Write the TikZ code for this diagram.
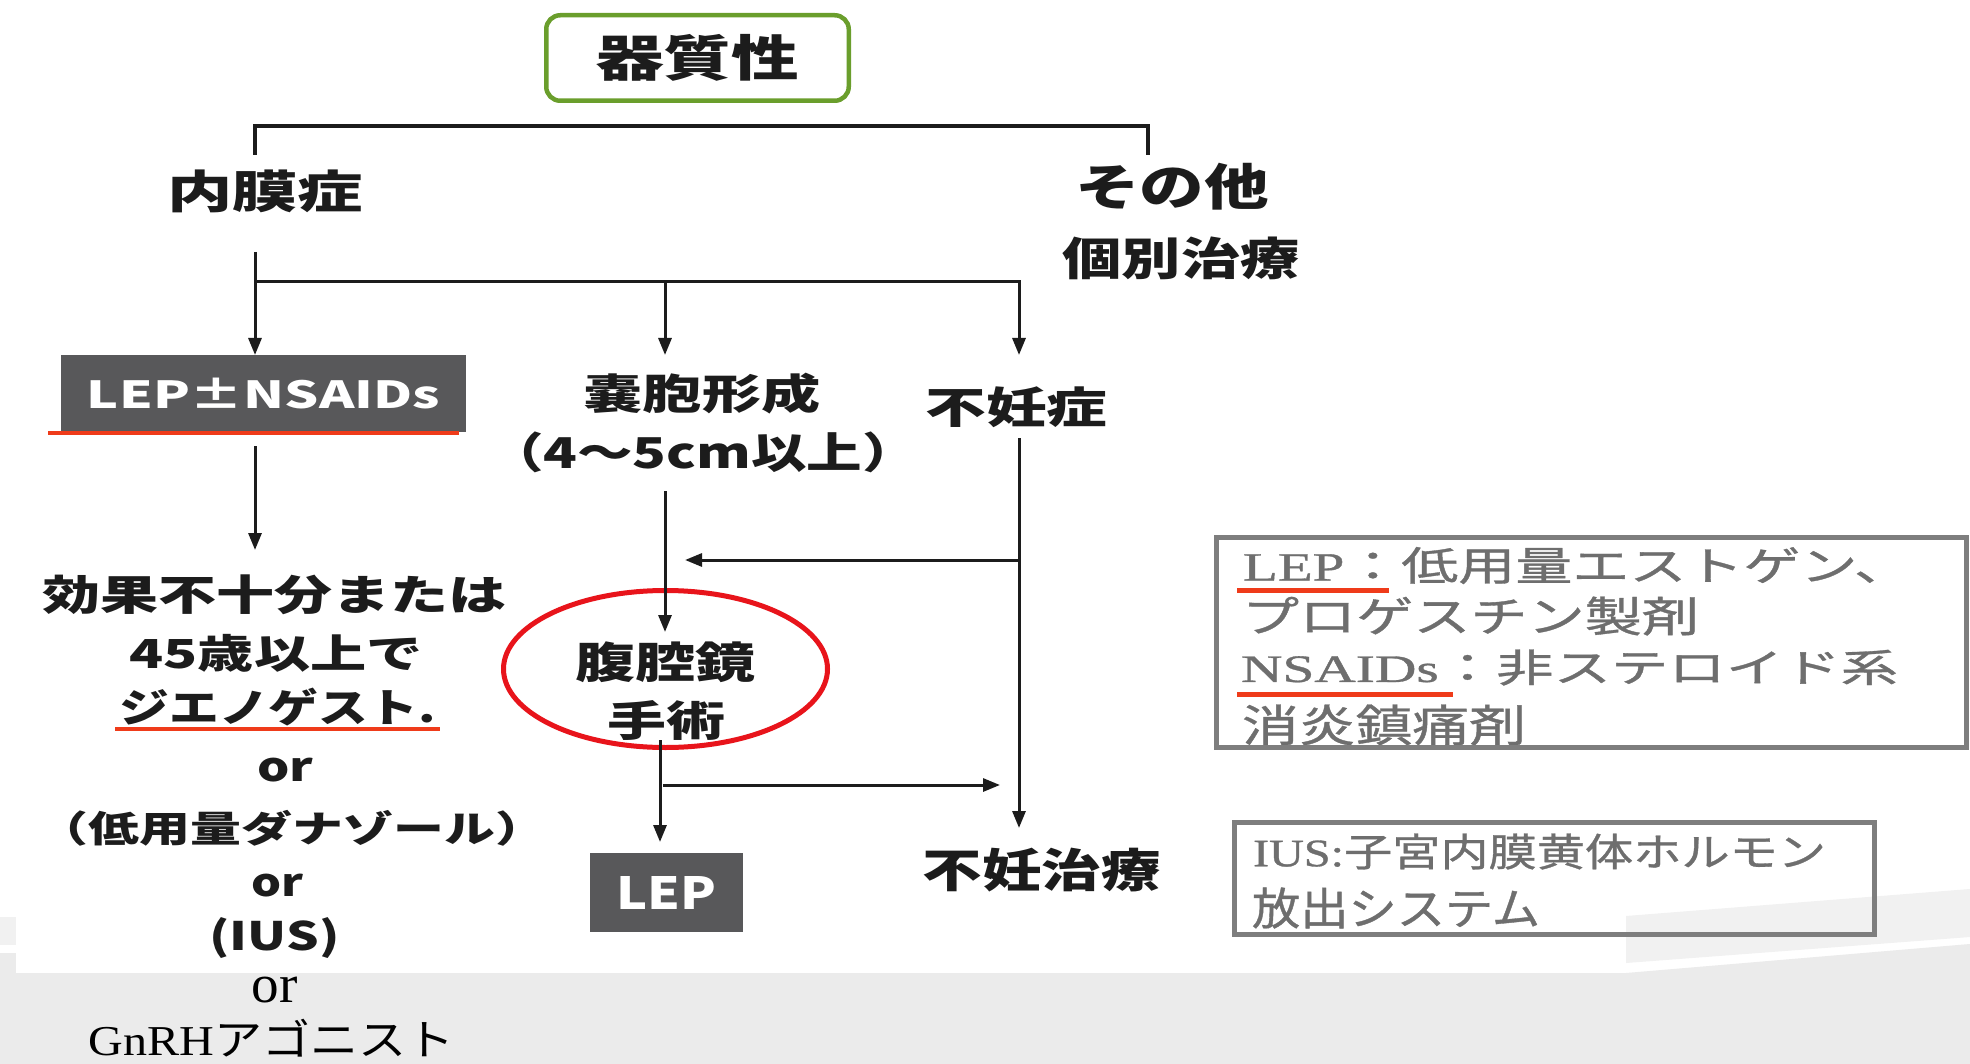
\documentclass[tikz,border=0pt]{standalone}
\usepackage{fontspec}
\usepackage{graphicx}
\usetikzlibrary{arrows.meta,shapes.geometric}
\newfontfamily\goth{Noto Sans CJK JP}
\newfontfamily\gothl{Noto Sans CJK JP}[FakeBold=0.8]
\newfontfamily\ser{Liberation Serif}
\newfontfamily\serl{Liberation Serif}[FakeBold=0.8]
\definecolor{inkc}{HTML}{1C1C1C}
\definecolor{boxfill}{HTML}{58585A}
\definecolor{grn}{HTML}{6A9E2C}
\definecolor{redu}{HTML}{EF3B1A}
\definecolor{redell}{HTML}{E8141B}
\definecolor{lgray}{HTML}{7E7E7E}
\definecolor{ltext}{HTML}{6E6E6E}
\definecolor{band}{HTML}{EBEBEB}
\definecolor{wedge}{HTML}{F1F1F1}
\newcommand\ftx[3]{\resizebox*{#1pt}{#2pt}{#3}}
\newcommand\jgb{\goth\bfseries\fontsize{40pt}{40pt}\selectfont}
\newcommand\jgr{\goth\fontsize{40pt}{40pt}\selectfont}
\newcommand\jsr{\ser\fontsize{40pt}{40pt}\selectfont}
\newcommand\lgr{\gothl\fontsize{40pt}{40pt}\selectfont}
\newcommand\lsr{\serl\fontsize{40pt}{40pt}\selectfont}
\begin{document}
\begin{tikzpicture}[x=1pt,y=-1pt,
  lbl/.style={inner sep=0pt,outer sep=0pt,text=inkc},
  arr/.style={line width=3pt,draw=inkc,-{Triangle[length=17pt,width=13pt]}},
  ln/.style={line width=3pt,draw=inkc},
  brk/.style={line width=4pt,draw=inkc},
  uline/.style={line width=4.5pt,draw=redu},
  darkbox/.style={fill=boxfill,inner sep=0pt,outer sep=0pt,text=white},
  legbox/.style={draw=lgray,line width=5pt,inner sep=0pt,outer sep=0pt},
  legtxt/.style={inner sep=0pt,outer sep=0pt,text=ltext,anchor=west}]
\useasboundingbox (0,0) rectangle (1970,1064);
% background
\fill[white] (0,0) rectangle (1970,1064);
\fill[band] (0,973) -- (1626,973) -- (1970,944) -- (1970,1064) -- (0,1064) -- cycle;
\fill[wedge] (1626,916) -- (1970,889) -- (1970,937) -- (1626,963) -- cycle;
\fill[wedge] (0,917) rectangle (16,945);
\fill[band] (0,953) rectangle (16,973);

% top box
\node[draw=grn,line width=4.5pt,rounded corners=14pt,minimum width=302.5pt,minimum height=85.5pt,inner sep=0pt,text=inkc] (top) at (697.5,58) {\ftx{203}{47}{\jgb 器質性}};

% level 1
\node[lbl] (naimaku) at (265,191.5) {\ftx{196}{43}{\jgb 内膜症}};
\node[lbl] (sonota) at (1172,186.5) {\ftx{194}{47}{\jgb その他}};
\node[lbl] (kobetsu) at (1181,258.5) {\ftx{237}{43}{\jgb 個別治療}};

% level 2
\node[darkbox,minimum width=405pt,minimum height=77pt] (lep1) at (263.5,393.5) {\ftx{353}{31}{\jgb LEP±NSAIDs}};
\node[lbl] (noho) at (702,393.5) {\ftx{237}{41}{\jgb 嚢胞形成}};
\node[lbl] (noho2) at (703,452) {\ftx{430}{41}{\jgb （4〜5cm以上）}};
\node[lbl] (funin) at (1016.5,407.5) {\ftx{182}{41}{\jgb 不妊症}};

% left column
\node[lbl] (k1) at (274.5,594.5) {\ftx{464}{40}{\jgb 効果不十分または}};
\node[lbl] (k2) at (276,653) {\ftx{293}{38}{\jgb 45歳以上で}};
\node[lbl] (k3) at (277.5,707.5) {\ftx{316}{38}{\jgb ジエノゲスト.}};
\node[lbl] (k4) at (285.5,770.5) {\ftx{56}{24}{\jgb or}};
\node[lbl] (k5) at (292,828) {\ftx{509}{36}{\jgb （低用量ダナゾール）}};
\node[lbl] (k6) at (277.5,885.5) {\ftx{52}{23}{\jgb or}};
\node[lbl] (k7) at (274.5,938.5) {\ftx{130}{41}{\jgb (IUS)}};
\node[lbl,text=black] (k8) at (274.5,990) {\ftx{46}{26}{\jsr or}};
\node[lbl,text=black] (k9) at (271.5,1038.5) {\ftx{366}{38}{\jsr GnRH\jgr アゴニスト}};

% middle column
\node[draw=redell,line width=5pt,ellipse,inner sep=0pt,minimum width=324pt,minimum height=157pt] (ell) at (665.5,669) {};
\node[lbl] (fukuku) at (665,662.5) {\ftx{180}{41}{\jgb 腹腔鏡}};
\node[lbl] (shujutsu) at (666.5,720.5) {\ftx{118}{40}{\jgb 手術}};
\node[darkbox,minimum width=153pt,minimum height=79pt] (lep2) at (666.5,892.5) {\ftx{100}{33}{\jgb LEP}};

% right column
\node[lbl] (chiryo) at (1041.5,870) {\ftx{238}{44}{\jgb 不妊治療}};

% legends text
\node[legtxt] (l1a) at (1243,565.5) {\ftx{668}{37}{\lsr LEP\lgr ：低用量エストゲン、}};
\node[legtxt] (l1b) at (1242,616) {\ftx{457}{39}{\lgr プロゲスチン製剤}};
\node[legtxt] (l1c) at (1241,667.5) {\ftx{657}{36}{\lsr NSAIDs\lgr ：非ステロイド系}};
\node[legtxt] (l1d) at (1242,725) {\ftx{284}{41}{\lgr 消炎鎮痛剤}};
\node[legtxt] (l2a) at (1253,851.5) {\ftx{573}{36}{\lsr IUS:\lgr 子宮内膜黄体ホルモン}};
\node[legtxt] (l2b) at (1252,908) {\ftx{288}{41}{\lgr 放出システム}};
\node[legbox,minimum width=750pt,minimum height=210pt] (leg1) at (1591.5,642.5) {};
\node[legbox,minimum width=640pt,minimum height=112pt] (leg2) at (1554.5,878.5) {};

% underlines
\draw[uline] (48,433) -- (459,433);
\draw[uline] (115,729) -- (440,729);
\draw[uline,line width=5pt] (1237,590) -- (1389,590);
\draw[uline,line width=5pt] (1237,694) -- (1453,694);

% connectors
\coordinate (bL) at (255,155);
\coordinate (bLt) at (255,126);
\coordinate (bRt) at (1148,126);
\coordinate (bR) at (1148,155);
\draw[brk] (bL) -- (bLt) -- (bRt) -- (bR);

\coordinate (s0) at (255,252);
\coordinate (s1) at (255,282);
\coordinate (s2) at (665,282);
\coordinate (s3) at (1019,282);
\draw[arr] (s0) -- (s0 |- lep1.north);
\draw[arr] (s1) -- (s3) -- (s3 |- lep1.north);
\draw[arr] (s2) -- (s2 |- lep1.north);

\coordinate (a2s) at (255,446);
\coordinate (a2e) at (255,550);
\draw[arr] (a2s) -- (a2e);

\coordinate (a3s) at (665,491);
\coordinate (a3e) at (665,632);
\draw[arr] (a3s) -- (a3e);

\coordinate (f0) at (1019,438);
\coordinate (f1) at (1019,560);
\coordinate (f2) at (1019,828);
\coordinate (f3) at (685,560);
\draw[arr] (f0) -- (f2);
\draw[arr] (f1) -- (f3);

\coordinate (m0) at (660,740);
\coordinate (m1) at (660,842);
\draw[arr] (m0) -- (m1);
\coordinate (r0) at (663,785);
\coordinate (r1) at (1000,785);
\draw[arr] (r0) -- (r1);
\end{tikzpicture}
\end{document}
